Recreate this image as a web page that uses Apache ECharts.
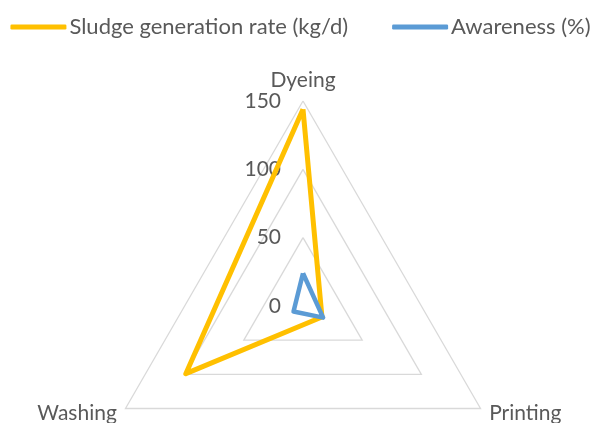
<!DOCTYPE html>
<html>
<head>
<meta charset="utf-8">
<script src="https://cdn.jsdelivr.net/npm/echarts@6/dist/echarts.min.js"></script>
<style>
  html, body { margin: 0; padding: 0; background: #ffffff; }
  #chart { width: 601px; height: 423px; }
</style>
</head>
<body>
<div id="chart"></div>
<script>
// Process stages (listed in ECharts' counter-clockwise order: top, bottom-left, bottom-right)
const stages = ['Dyeing', 'Washing', 'Printing'];
const sludgeRate = [144, 99, 16];    // Sludge generation rate (kg/d)
const awareness = [24, 8, 17];       // Awareness (%)
const seriesNames = ['Sludge generation rate (kg/d)', 'Awareness (%)'];
const scaleMin = 0;
const scaleMax = 150;
const scaleSteps = 3;

const FONT = 'Lato';
const TEXT = '#595959';

const chart = echarts.init(document.getElementById('chart'), null, { renderer: 'canvas' });

chart.setOption({
  animation: false,
  backgroundColor: '#ffffff',
  legend: {
    top: 11,
    left: 'center',
    itemWidth: 56,
    itemHeight: 5,
    itemGap: 44,
    icon: 'roundRect',
    textStyle: { fontFamily: FONT, fontSize: 22, color: TEXT, padding: [0, 0, 0, -2] },
    data: seriesNames
  },
  radar: {
    center: [303, 306],
    radius: 205,
    shape: 'polygon',
    min: scaleMin,
    max: scaleMax,
    splitNumber: scaleSteps,
    nameGap: 10,
    axisName: { fontFamily: FONT, fontSize: 21, color: TEXT },
    axisLine: { show: false },
    axisTick: { show: false },
    axisLabel: { show: false },
    splitLine: { lineStyle: { color: '#d9d9d9', width: 1.3 } },
    splitArea: { show: false },
    indicator: stages.map((name, i) => ({
      name: name,
      min: scaleMin,
      max: scaleMax,
      axisLabel: i === 0
        ? { show: true, fontFamily: FONT, fontSize: 21, color: TEXT, margin: 22 }
        : { show: false }
    }))
  },
  series: [{
    type: 'radar',
    symbol: 'none',
    silent: true,
    data: [
      {
        name: seriesNames[0],
        value: sludgeRate,
        itemStyle: { color: '#ffc000' },
        lineStyle: { color: '#ffc000', width: 5, join: 'round' }
      },
      {
        name: seriesNames[1],
        value: awareness,
        itemStyle: { color: '#5b9bd5' },
        lineStyle: { color: '#5b9bd5', width: 4.5, join: 'round' }
      }
    ]
  }]
});
</script>
</body>
</html>
